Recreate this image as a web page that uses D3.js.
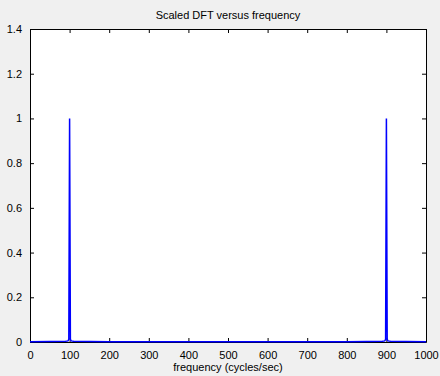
<!DOCTYPE html>
<html>
<head>
<meta charset="utf-8">
<script src="https://cdn.jsdelivr.net/npm/d3@7"></script>
<style>
  body { margin: 0; background: #f0f0f0; }
  svg { display: block; font-family: "Liberation Sans", Arial, sans-serif; }
</style>
</head>
<body>
<svg id="chart" width="440" height="376"></svg>
<script>
// frequency samples (cycles/sec) and scaled DFT magnitude
const freqs = [0, 50, 90, 96, 98, 100, 102, 104, 110, 150, 200, 250, 300, 350, 400, 450, 500,
               550, 600, 650, 700, 750, 800, 850, 890, 896, 898, 900, 902, 904, 910, 950, 1000];
const mags  = [0.001, 0.002, 0.003, 0.005, 0.012, 1.0, 0.012, 0.005, 0.003, 0.002, 0.001, 0.001, 0.001, 0.001, 0.001, 0.001, 0.001,
               0.001, 0.001, 0.001, 0.001, 0.001, 0.001, 0.002, 0.003, 0.005, 0.012, 1.0, 0.012, 0.005, 0.003, 0.002, 0.001];
const xTicks = [0, 100, 200, 300, 400, 500, 600, 700, 800, 900, 1000];
const yTicks = [0, 0.2, 0.4, 0.6, 0.8, 1, 1.2, 1.4];

const pL = 30, pR = 426, pT = 29, pB = 342;
const svg = d3.select("#chart");

const x = d3.scaleLinear([0, 1000], [pL, pR]);
const y = d3.scaleLinear([0, 1.4], [pB, pT]);

svg.append("rect")
    .attr("x", pL).attr("y", pT)
    .attr("width", pR - pL).attr("height", pB - pT)
    .attr("fill", "#fff");

// axes, ticks pointing inward on all four sides
const fmt = d => d3.format("~g")(d);
svg.append("g")
    .attr("transform", `translate(0,${pB})`)
    .call(d3.axisBottom(x).tickValues(xTicks).tickSizeInner(-4).tickSizeOuter(0).tickPadding(9).tickFormat(fmt));
svg.append("g")
    .attr("transform", `translate(0,${pT})`)
    .call(d3.axisTop(x).tickValues(xTicks).tickSizeInner(-4).tickSizeOuter(0).tickFormat(""));
svg.append("g")
    .attr("transform", `translate(${pL},0)`)
    .call(d3.axisLeft(y).tickValues(yTicks).tickSizeInner(-4).tickSizeOuter(0).tickPadding(8).tickFormat(fmt));
svg.append("g")
    .attr("transform", `translate(${pR},0)`)
    .call(d3.axisRight(y).tickValues(yTicks).tickSizeInner(-4).tickSizeOuter(0).tickFormat(""));

svg.selectAll(".domain").attr("stroke", "#000");
svg.selectAll(".tick line").attr("stroke", "#000");
svg.selectAll(".tick text")
    .attr("font-size", "11px")
    .attr("font-family", "Liberation Sans, Arial, sans-serif")
    .attr("fill", "#000");

// data line drawn over the axes, like the original
svg.append("path")
    .datum(freqs.map((f, i) => [f, mags[i]]))
    .attr("fill", "none")
    .attr("stroke", "#0000ff")
    .attr("stroke-width", 1.5)
    .attr("d", d3.line().x(d => x(d[0])).y(d => y(d[1])));

svg.append("text")
    .attr("x", (pL + pR) / 2).attr("y", 19)
    .attr("text-anchor", "middle")
    .attr("font-size", "11px")
    .text("Scaled DFT versus frequency");

svg.append("text")
    .attr("x", (pL + pR) / 2).attr("y", 371)
    .attr("text-anchor", "middle")
    .attr("font-size", "11px")
    .text("frequency (cycles/sec)");
</script>
</body>
</html>
